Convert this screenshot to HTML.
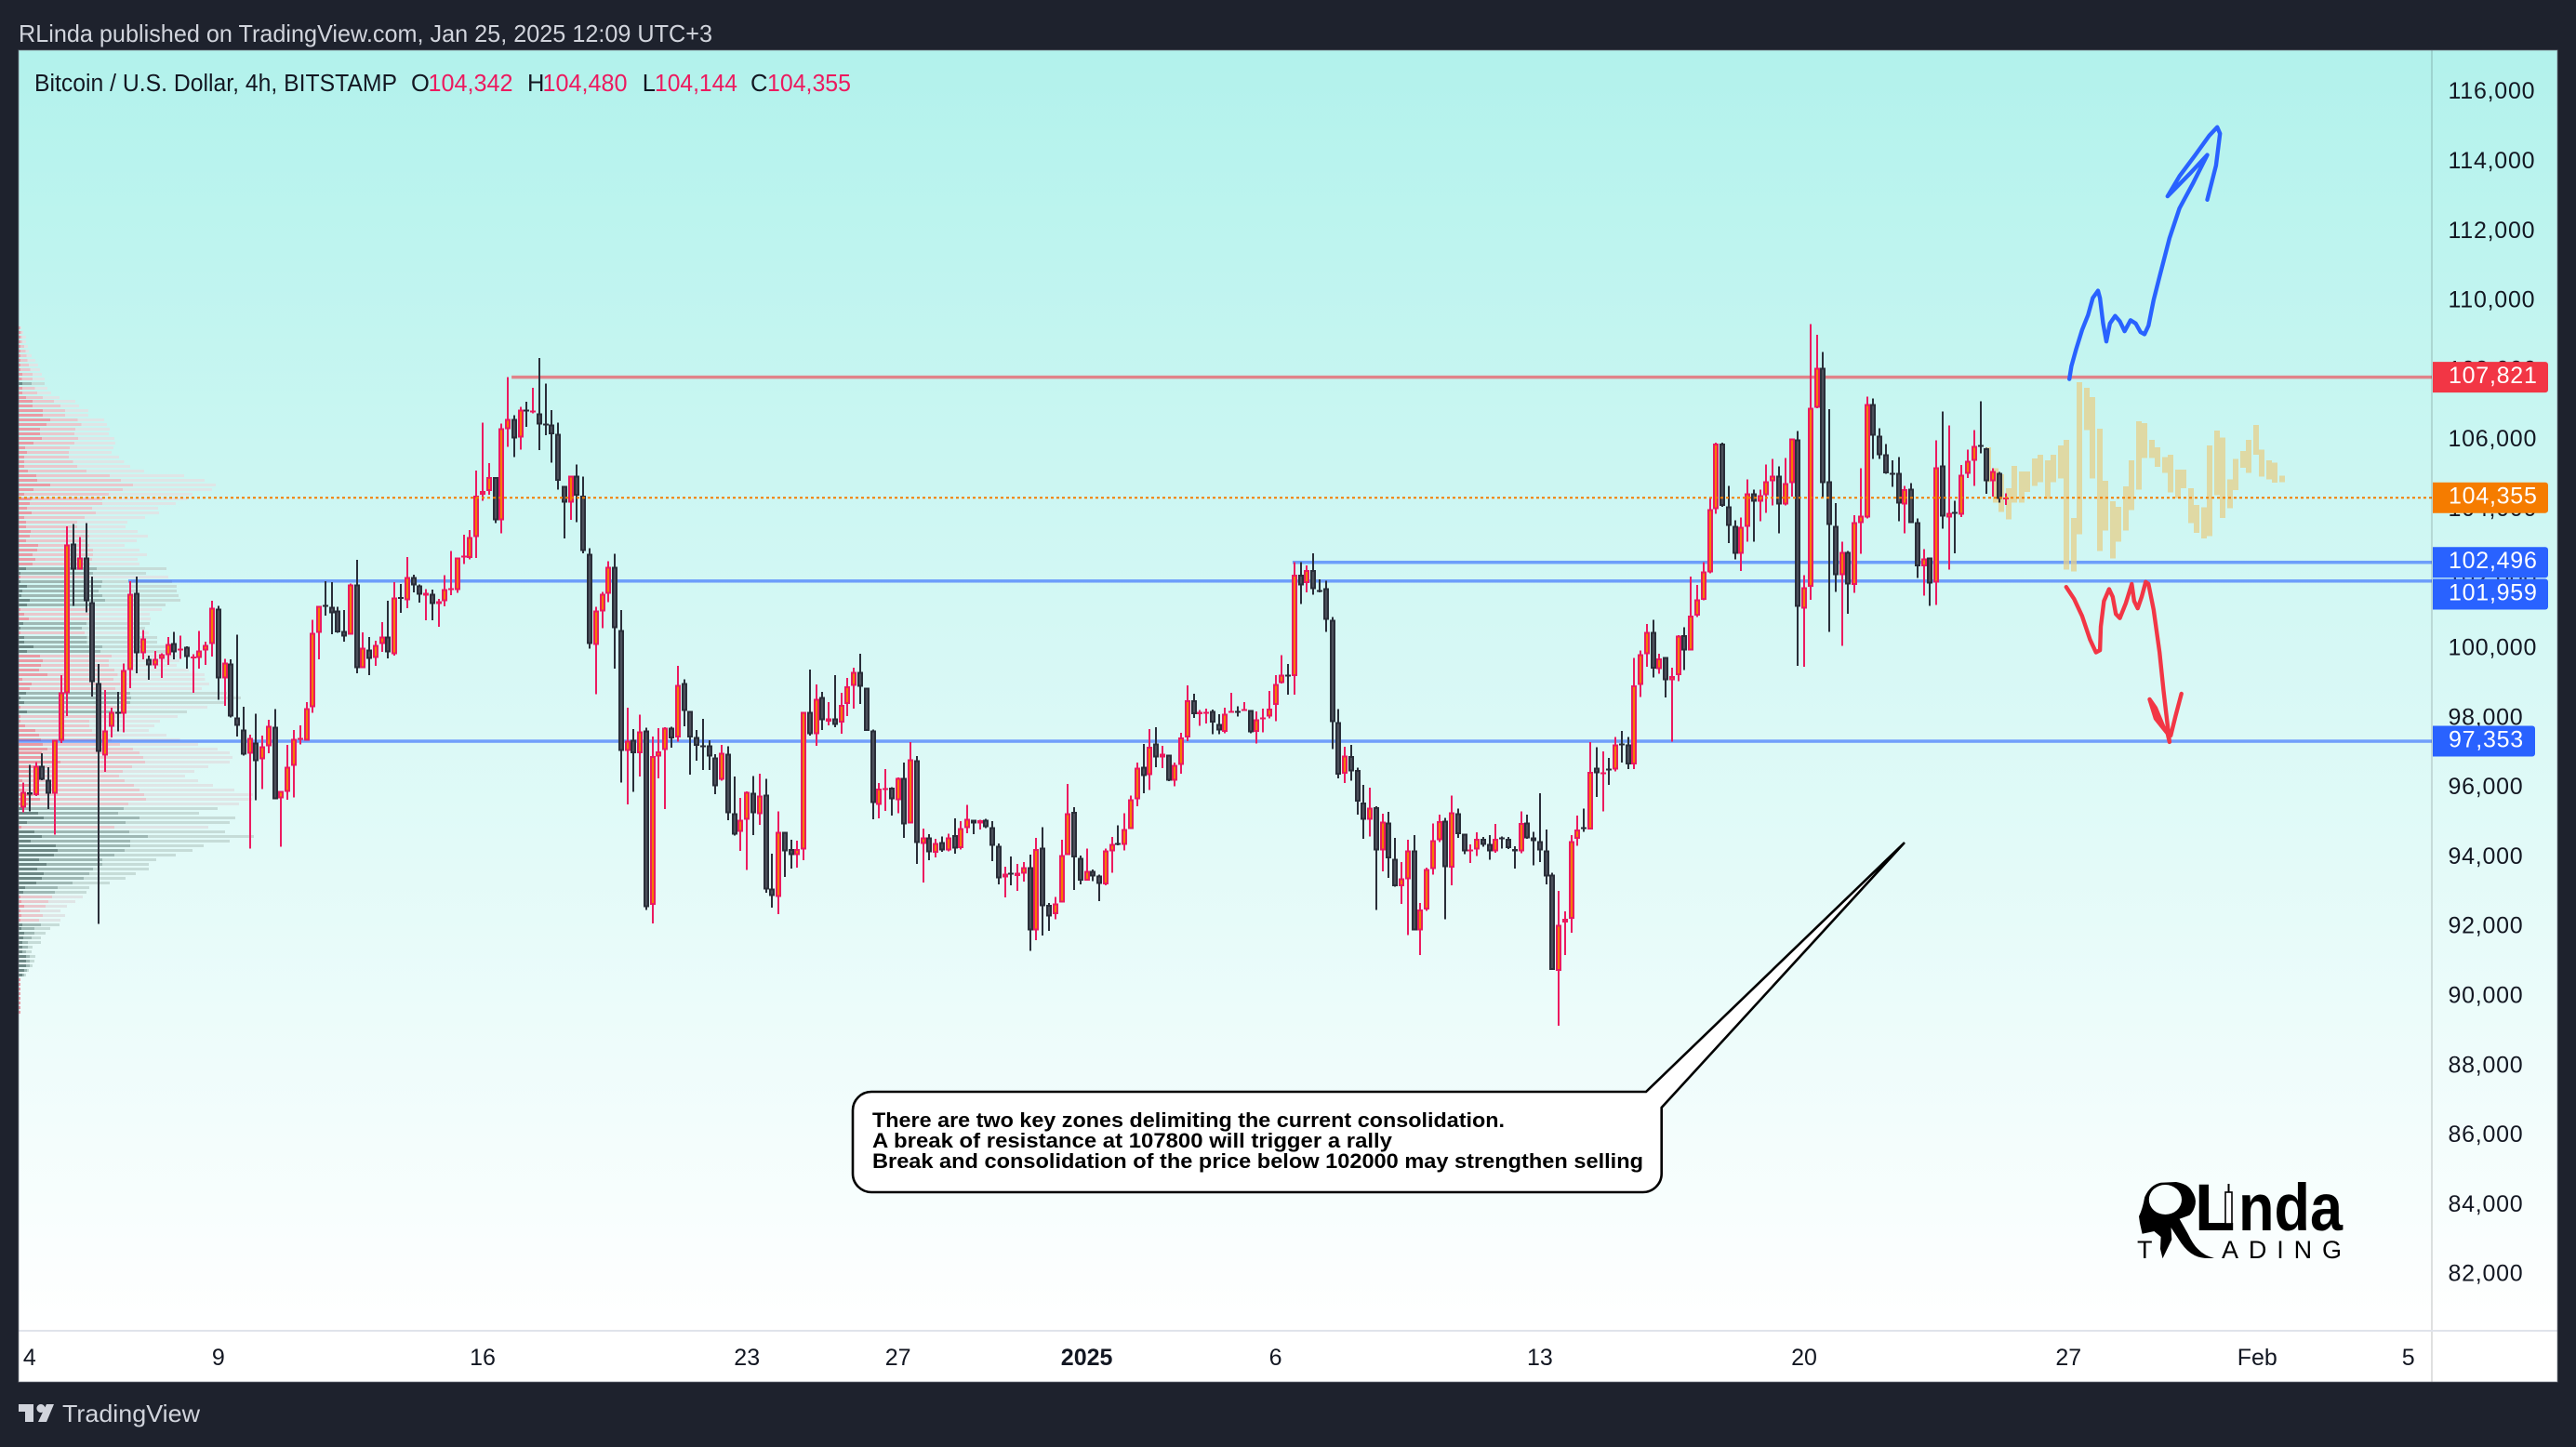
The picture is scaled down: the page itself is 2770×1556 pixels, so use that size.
<!DOCTYPE html>
<html lang="en">
<head>
<meta charset="utf-8">
<title>BTC/USD 4h chart</title>
<style>
html,body{margin:0;padding:0;background:#1e222d;width:2770px;height:1556px;overflow:hidden}
svg{display:block}
text{font-family:"Liberation Sans",sans-serif}
</style>
</head>
<body>
<svg id="chart" xmlns="http://www.w3.org/2000/svg" width="2770" height="1556" viewBox="0 0 2770 1556">
<defs>
<linearGradient id="bgGrad" x1="0" y1="0" x2="0" y2="1">
<stop offset="0" stop-color="#b2f2ec"/>
<stop offset="1" stop-color="#ffffff"/>
</linearGradient>
<clipPath id="plotClip"><rect x="20" y="54" width="2595" height="1377"/></clipPath>
</defs>
<rect x="0" y="0" width="2770" height="1556" fill="#1e222d"/>
<text x="20" y="45" font-size="26" fill="#d1d4dc" textLength="746" lengthAdjust="spacingAndGlyphs">RLinda published on TradingView.com, Jan 25, 2025 12:09 UTC+3</text>
<rect x="20" y="54" width="2730" height="1377" fill="url(#bgGrad)"/>
<rect x="20" y="1431" width="2730" height="55" fill="#ffffff"/>
<g id="profileLayer" clip-path="url(#plotClip)"></g>
<g id="levelLayer" clip-path="url(#plotClip)"></g>
<g id="ghostLayer" clip-path="url(#plotClip)"></g>
<g id="candleLayer" clip-path="url(#plotClip)"></g>
<g id="lastLayer" clip-path="url(#plotClip)"></g>

<path fill="none" stroke="#2962ff" stroke-width="4.4" stroke-linecap="round" stroke-linejoin="round" d="M2225.2 407.6L2227.4 393.8L2232.5 375.5L2238.9 354.8L2245.3 338.8L2250.4 320.4L2256 312.6L2258.1 320.4L2261.5 347.9L2265 367.2L2268.8 347.9L2274.4 339.7L2279.5 345.6L2284.6 356.2L2291 344.3L2296.6 347.9L2301.7 357.1L2306 359.4L2310.3 350.2L2315.8 322.7L2322.2 297.4L2332.9 256.1L2343.6 224L2358.5 196.4L2373.5 166.6L2354.3 187.2L2330.8 211.1L2343.6 189.5L2360.7 166.6L2375.6 145.9L2384.2 136.7L2387.2 143.6L2382.9 178L2373.5 214.8"/>
<path fill="none" stroke="#f23645" stroke-width="4.4" stroke-linecap="round" stroke-linejoin="round" d="M2221.8 631.2L2230.3 644.1L2238.9 662.4L2247.4 687.7L2253.8 701.5L2258.1 699.2L2259 673.9L2262.4 646.4L2267.9 633.5L2271.8 641.7L2275.2 660.2L2279.5 664.7L2285.9 648.7L2292.3 628L2294.9 646.4L2298.7 654.2L2303 641.7L2307.3 625.7L2310.3 628L2315.8 655.6L2322.2 701.5L2326.5 742.8L2332.9 797.9L2330.8 788.7L2317.9 772.6L2311.5 752L2317.9 761.2L2326.5 781.8L2334.2 791L2339.3 770.3L2345.7 746"/>

<g>
<path d="M937 1174L1770 1174L2048 906L1786.7 1191L1786.7 1262A20 20 0 0 1 1766.7 1282L937 1282A20 20 0 0 1 917 1262L917 1194A20 20 0 0 1 937 1174Z" fill="#ffffff" stroke="#000000" stroke-width="2.6"/>
<text x="938" y="1212" font-size="22.5" font-weight="700" fill="#000" textLength="680" lengthAdjust="spacingAndGlyphs">There are two key zones delimiting the current consolidation.</text>
<text x="938" y="1234" font-size="22.5" font-weight="700" fill="#000" textLength="559" lengthAdjust="spacingAndGlyphs">A break of resistance at 107800 will trigger a rally</text>
<text x="938" y="1256" font-size="22.5" font-weight="700" fill="#000" textLength="829" lengthAdjust="spacingAndGlyphs">Break and consolidation of the price below 102000 may strengthen selling</text>
</g>

<g>
<path fill="#000" fill-rule="evenodd" d="M2300 1308Q2304 1300 2306.2 1287.3Q2312 1274 2323.6 1271.7L2340 1271Q2352 1273 2356.4 1280Q2362 1288 2360.7 1295Q2359 1303 2354.5 1306.7L2343.6 1310.7L2352.7 1326.7Q2358 1338 2363.6 1343.3Q2371 1351 2381 1352.7Q2368 1354 2360 1350Q2352 1346 2345.5 1336.7L2334.5 1320L2335.3 1333L2325.5 1353.3L2323 1343L2323.6 1330L2316.4 1324L2303.6 1326.7L2301 1315ZM2310.8 1290a17.6 16 0 1 0 35.2 0a17.6 16 0 1 0 -35.2 0Z"/>
<text x="2360" y="1323" font-size="71" font-weight="700" fill="#000">L</text>
<rect x="2395.5" y="1273" width="2" height="50" fill="#000"/>
<rect x="2393" y="1282" width="7" height="34" fill="#fff" stroke="#000" stroke-width="1.6"/>
<text x="2407" y="1323" font-size="71" font-weight="700" fill="#000" textLength="112" lengthAdjust="spacingAndGlyphs">nda</text>
<text x="2298" y="1353" font-size="27" fill="#000">T</text>
<text x="2389" y="1353" font-size="27" fill="#000" textLength="129">ADING</text>
</g>

<g font-size="25.5">
<text x="37" y="98" fill="#131722" textLength="390" lengthAdjust="spacingAndGlyphs">Bitcoin / U.S. Dollar, 4h, BITSTAMP</text>
<text x="442" y="98" fill="#131722">O</text>
<text x="460.5" y="98" fill="#ec1a5f" textLength="91" lengthAdjust="spacingAndGlyphs">104,342</text>
<text x="567" y="98" fill="#131722">H</text>
<text x="583.5" y="98" fill="#ec1a5f" textLength="91" lengthAdjust="spacingAndGlyphs">104,480</text>
<text x="690.7" y="98" fill="#131722">L</text>
<text x="704" y="98" fill="#ec1a5f" textLength="89" lengthAdjust="spacingAndGlyphs">104,144</text>
<text x="807" y="98" fill="#131722">C</text>
<text x="825" y="98" fill="#ec1a5f" textLength="90" lengthAdjust="spacingAndGlyphs">104,355</text>
</g>

<rect x="2614" y="54" width="2" height="1432" fill="#000" fill-opacity="0.12"/>
<rect x="20" y="1430" width="2730" height="2" fill="#e0e3eb"/>
<g id="yAxis"></g>
<g id="xAxis"></g>
<g id="labelLayer"></g>
<rect x="20" y="54" width="2730" height="1432" fill="none" stroke="#787b86" stroke-opacity="0.55" stroke-width="1.2"/>

<g>
<path fill="#d1d4dc" d="M20 1510H36V1529H27V1518H20ZM50 1510H58L50 1529H41ZM44 1510a4.5 4.5 0 1 1 -0.1 0Z"/>
<text x="67" y="1529" font-size="26" fill="#d1d4dc" textLength="148" lengthAdjust="spacingAndGlyphs">TradingView</text>
</g>
</svg>
<script>
// ---- Candle data: Dec 4 2024 - Jan 25 2025, 4h bars ----
const opens=[95447,95890,95803,96641,96249,95848,97363,98736,103041,102292,102640,101356,99030,96935,97773,98201,98147,99404,101623,99885,99725,99529,99725,99832,100180,99983,100073,99752,99752,99957,100144,101169,99155,99591,98040,97693,96989,97318,96828,97203,97773,95714,95893,96650,97408,97363,98326,100474,101276,101222,101115,100527,100420,101864,99449,99983,99752,100144,100367,99859,101499,101410,102078,101837,101534,101597,101303,101374,101722,101695,102657,102622,103228,104438,104552,104944,103709,106319,106615,106080,106882,106825,106777,106491,106462,106195,104695,104218,104991,104409,102746,100126,101089,101597,102372,100554,97069,97399,97007,97657,
92642,96910,97101,97741,97464,99031,98228,97474,97235,97235,96891,96242,96996,95287,94752,95096,95870,95258,95822,93119,92880,94752,94246,94084,94236,98200,97560,98630,97913,98009,97885,98429,98945,99346,98897,97665,95516,95965,96013,95650,96299,94981,96805,94399,94590,94141,94456,94217,94647,94284,94848,95096,94991,95096,94876,94351,93434,93568,93482,93549,93730,91916,94294,92642,92374,92718,94084,95316,93998,93339,93625,93491,93234,94189,94428,94370,94829,95688,96624,96376,97293,96891,96968,96223,96672,97455,98534,98123,98142,98219,97846,97627,98190,98219,98247,98247,97617,97980,98057,98391,99031,99269,99222,102144,101896,102268,101705,101752,100845,97904,96414,96920,96519,95593,95096,95449,94217,95020,93969,93186,93377,94217,91916,92518,93683,94504,95067,93711,95287,94695,94208,94237,94552,94399,94179,94580,94552,94256,94179,95020,94590,94475,94208,93520,90751,92136,92250,94542,94886,94810,96586,96414,96567,96538,97293,97264,96691,98973,99861,100492,99432,99775,99107,99250,100396,99966,100960,101418,102204,104031,105911,104111,103549,102747,103523,104485,104245,104432,104833,104984,104155,104779,106036,101170,101794,106945,108095,104824,103549,102132,102801,101847,103630,103781,107052,106143,105599,105065,105065,104164,104610,103647,102382,102631,101909,105279,103790,103951,103870,105038,105421,105876,105778,104824,105074,104342];
const highs=[96160,96677,96757,97007,96605,97390,99253,103531,103602,103228,103629,102087,99573,98825,98317,98771,99591,101953,102087,100554,99814,99948,99885,100349,100500,100393,100082,99859,100527,100215,101392,101249,99725,99707,100420,98343,97541,98147,97515,97969,98281,95919,97247,97675,97809,98477,100839,101240,101953,101926,101222,101124,101891,102568,100483,100349,100242,100777,101392,101926,101873,102648,102140,101864,101730,101713,101445,102131,102818,102640,103290,103424,105135,106519,105345,104944,106491,107818,106729,106968,107112,107513,108372,107637,106873,106519,104695,104991,105316,104963,102907,101222,101641,102533,102746,101124,98317,97702,98121,97737,
97483,97732,97751,97770,99518,99136,98228,97674,97990,97378,96977,97245,97207,96337,95717,95908,96357,96414,96271,94122,95335,94752,94514,94494,98200,99413,98983,98773,98477,99250,98744,99174,99460,99871,98897,97694,96146,96548,96032,96309,96739,97331,96930,94838,94676,94542,94618,94695,95134,95048,95526,95096,95096,95125,95048,94408,93740,94036,93826,93874,94093,94571,94886,92708,92880,94523,96118,95449,94065,94265,93663,93520,94265,94599,94934,95287,95793,96739,97273,97703,97751,97216,96968,96739,97598,98954,98715,98247,98286,98257,98123,98314,98744,98362,98477,98247,98209,98286,98792,99250,99833,99575,102497,102507,102402,102755,102001,101972,100921,98276,97197,97245,96595,96099,96013,95478,95268,95316,94571,93874,94523,94647,92708,93711,94981,95239,95144,95793,95421,94695,94380,94733,94599,94647,94972,94618,94599,94332,95335,95239,94752,95860,94810,93568,93043,92460,94647,95211,95421,97331,97187,97054,96872,97474,97646,97474,99747,99967,100721,100845,99871,99775,99470,100396,100635,102087,101848,102507,104343,105938,105938,104699,103710,103781,104886,104592,104583,105314,105475,105261,105501,106063,106277,102132,109352,109040,108550,106901,104200,103095,102827,103852,105207,107257,107213,106348,105902,105430,105528,104699,104779,103763,102881,102640,106009,106838,106437,104271,105296,105742,106304,107132,105787,105207,105100,104480];
const lows=[95313,95331,95777,96231,95402,94662,97301,98076,101240,102283,101053,98638,92104,96472,97461,97630,97604,98878,99306,99707,99119,99440,99172,99547,99707,99725,99440,98745,99440,99547,99787,98540,98370,98032,97488,96935,94261,95652,95973,97007,95688,94315,95670,95732,97256,97363,98165,99707,100964,100429,100465,100215,100420,99306,99449,99253,99520,99921,99734,99814,101044,101178,101632,101338,100830,100830,100643,101231,101552,101614,102443,102577,102622,104266,104438,103620,103335,105822,105517,105736,106395,106777,105727,106157,105364,104581,103183,103718,103647,102755,100010,98700,100598,101347,99440,96160,95536,95892,96338,92497,
92117,96290,95402,97168,97340,97780,96395,96796,96528,96528,95831,96213,95077,94638,94198,93644,94657,94943,92995,92565,92384,93453,93692,93721,93931,97512,97216,97674,97808,97751,97570,98076,98286,98419,97655,95106,95134,95344,95211,95287,94571,94981,93826,93291,93931,94007,94170,94179,94122,94237,94705,94676,94810,94857,93902,93234,92861,93205,93052,93320,91324,91629,91763,91897,92231,92718,94084,93071,93234,93339,93329,92756,93205,93568,94361,94208,94829,95478,95860,95955,96605,96576,96204,96051,96414,97350,98018,97789,97866,97550,97550,97579,98190,98057,98247,97579,97283,97607,98009,97923,99012,98696,98696,101303,101638,101571,101638,100492,97121,96290,96147,96213,95239,94542,94618,92498,93616,93425,93167,92680,91773,91916,91209,92470,93511,94447,92231,93215,94571,94103,93855,94046,94313,93940,94150,94265,94255,93692,94131,94542,93778,93883,93234,90770,89175,91209,91849,94351,94752,94810,95745,95335,96099,96481,96739,96548,96548,98620,99489,99183,99288,98610,97340,99078,99394,99966,100921,101399,102177,103888,104093,103050,102578,102248,103086,103086,103674,103915,104129,103327,104129,104387,99518,99489,101419,106927,104360,100492,101642,100091,101018,101615,102738,103754,105475,105475,105047,104672,103674,103336,103621,102043,101535,101241,101268,103469,102284,102756,103799,104922,104690,105626,104467,104387,104209,104144];
const closes=[95893,95812,96641,96249,95848,97390,98762,103005,102292,102640,101374,99056,97051,97657,98201,98138,99404,101597,99885,100313,99529,99725,99859,100153,99903,100019,99770,99787,99966,100117,101196,99155,99618,98058,97791,96962,97452,96784,97211,97800,95688,95919,96623,97425,97452,98308,100474,101240,101240,101026,100483,100367,101864,99449,100046,99716,100117,100367,99903,101481,101454,102078,101837,101570,101623,101303,101383,101730,101757,102640,102693,103228,104418,104552,104944,103709,106347,106615,106061,106882,106854,106863,106462,106453,106176,104839,104218,104991,104409,102818,100144,101106,101597,102372,100607,97078,97372,97007,97639,92586,
96930,97054,97741,97436,98973,98228,97455,97216,97207,96910,96051,97025,95287,94666,95096,95898,95287,95793,93090,92899,94752,94189,94084,94256,98200,97550,98572,97951,98009,97818,98391,98926,99346,98916,97655,95574,95984,96003,95688,96299,94962,96834,94428,94590,94160,94428,94208,94590,94265,94848,95125,94991,95086,94886,94351,93415,93549,93539,93568,93730,91916,94246,92613,92317,92689,94084,95287,94007,93348,93625,93463,93253,94217,94399,94389,94829,95679,96595,96357,97197,96891,96996,96223,96672,97455,98534,98123,98200,98200,97885,97665,98142,98219,98190,98276,97607,97980,98037,98295,99002,99269,99222,102134,101829,102268,101724,101647,100845,97904,96385,96939,96490,95612,95096,95440,94217,95039,93979,93186,93406,94208,91916,92518,93683,94504,95058,93730,95306,94685,94179,94237,94552,94370,94179,94552,94552,94275,94189,95000,94561,94485,94208,93463,90770,92069,92250,94475,94819,94848,96471,96433,96462,96538,97264,97254,96691,98964,99852,100492,99441,99737,99107,99231,100387,99966,100969,101428,102230,104031,105911,104120,103549,102747,103514,104485,104245,104432,104833,104993,104164,104779,106063,101223,101775,106945,108095,104779,103576,102123,102801,101865,103647,103835,107052,106143,105582,105056,105038,104191,104601,103630,102382,102605,101892,105225,103817,103915,103924,105020,105421,105840,105849,104833,105118,104316,104355];

// ---- Volume profile rows (relative volume, top to bottom) ----
const profileHighPrice=109243;
const profileStep=133;
const profileInner=[4,6,6,6,6,6,6,6,6,6,12,10,12,12,12,24,45,45,78,78,102,90,69,69,75,48,21,27,18,18,18,30,57,60,102,48,18,40,36,27,42,18,24,24,39,36,24,63,60,45,54,45,24,6,6,6,27,12,9,36,27,6,18,33,15,6,6,18,18,48,27,69,78,72,66,93,12,42,36,24,6,18,6,27,6,6,21,54,66,72,78,93,75,75,135,48,36,40,12,39,18,45,69,30,15,63,81,27,9,51,75,39,120,126,114,66,90,60,81,75,57,21,15,6,9,18,6,9,6,12,9,18,15,12,12,12,24,24,24,18,12,6,6,6,6,6,6,6,6];
const profileMid=[4,10,10,12,18,22,25,28,33,37,45,45,42,52,60,78,114,135,150,150,190,202,183,180,192,180,165,162,162,175,189,219,294,330,369,336,291,270,270,237,249,213,189,189,225,228,222,228,240,240,237,231,252,240,230,270,267,258,270,279,240,240,228,228,219,204,213,220,220,270,264,300,291,291,309,320,306,327,312,360,363,360,330,300,291,228,228,237,260,300,327,369,390,402,408,366,336,324,342,372,390,405,411,354,339,321,390,345,309,357,417,360,360,342,309,270,270,240,228,210,174,126,117,108,96,87,69,78,66,72,51,51,42,30,30,24,36,36,36,27,18,6,6,6,6,6,6,6,6];
const profileTotal=[9,15,24,24,30,33,42,54,63,69,75,84,84,93,105,132,183,195,225,225,276,285,294,291,309,312,306,300,324,340,360,405,534,600,636,624,561,543,507,450,453,408,351,345,384,417,381,342,390,414,384,390,477,411,483,495,510,510,516,522,474,462,423,426,423,408,420,447,447,492,474,510,519,510,549,600,602,615,591,672,717,669,609,543,513,456,438,420,477,520,579,642,681,690,681,612,567,537,579,627,696,756,753,711,642,582,699,681,612,666,759,681,597,561,507,444,420,420,378,345,294,228,219,207,183,156,135,150,135,132,102,87,72,72,45,42,54,51,45,33,24,6,6,6,6,6,6,6,6];
const profileSide=[0,0,0,0,0,0,0,0,0,0,0,0,1,0,0,0,0,0,0,0,0,0,0,0,0,0,0,0,0,0,0,0,0,0,0,0,0,0,0,0,0,0,0,0,0,0,0,0,0,0,0,0,1,1,0,1,1,1,1,1,1,0,0,0,1,1,0,1,1,1,1,0,0,0,0,0,0,0,0,1,1,1,0,1,0,0,0,0,0,0,0,0,0,0,0,0,0,0,0,0,0,0,0,0,1,1,1,1,0,1,1,1,1,1,1,1,1,1,1,1,1,1,1,0,0,0,0,0,0,1,1,1,1,1,1,1,1,1,1,1,1,0,0,0,0,0,0,0,0];

// ---- Projected pattern (pale bars to the right of last price) ----
const ghostHighs=[105804,105207,105029,104628,105270,105109,105109,105484,105590,105430,105590,105858,106018,103772,107676,107516,107248,106339,104842,104254,104093,104681,105430,106553,106500,106018,105800,105529,105591,105161,105161,104633,104142,104080,105861,106291,106082,104879,105468,105701,106021,106450,105738,105431,105358,104989];
const ghostLows=[104806,104209,103942,103728,104209,104209,104521,104690,104797,104316,104797,104904,102284,102230,103300,106295,104904,102819,103407,102605,103086,103407,103995,104583,105492,105492,105247,105063,104510,104351,104633,103626,103344,103184,103245,104424,103773,104056,104572,105222,105063,105591,104965,104879,104793,104805];
const ghostStartBar=312.4;
const ghostBarStep=1.0344;

// ---- Axis ticks ----
const priceTicks=[116000,114000,112000,110000,108000,106000,104000,102000,100000,98000,96000,94000,92000,90000,88000,86000,84000,82000];
const timeTickLabels=['4','9','16','23','27','2025','6','13','20','27','Feb','5'];
const timeTickBars=[1,31,73,115,139,169,199,241,283,325,355,379];

// ---- Horizontal levels ----
const levelPrices=[107821,102496,101959,97353];
const levelStartBars=[77.6,201.7,16.7,-0.8];
const levelColors=['#f23645','#2962ff','#2962ff','#2962ff'];
const levelNames=['resistance-line-107821','support-line-102496','support-line-101959','support-line-97353'];
const lastPrice=104355;

// ---- Axis functions ----
function xScale(bar){return 25+6.767*bar;}
function yScale(price){return 1371.2-(price-82000)*0.037397;}
function fmt(v){return String(v).replace(/\B(?=(\d{3})+$)/g,',');}

const NS='http://www.w3.org/2000/svg';
function make(tag,attrs,parent){
  const el=document.createElementNS(NS,tag);
  for(const k in attrs){el.setAttribute(k,attrs[k]);}
  parent.appendChild(el);
  return el;
}

// Volume profile
const profileLayer=document.getElementById('profileLayer');
const profileColors=[['#dfe5e6','#e9c7cc','#ea9aa4'],['#c6dcd8','#9fb8b4','#6d8784']];
profileTotal.forEach(function(total,k){
  const y=Math.round(yScale(profileHighPrice-k*profileStep)-1.5);
  const c=profileColors[profileSide[k]];
  const g=make('g',{'shape-rendering':'crispEdges'},profileLayer);
  
  
  make('rect',{x:20,y:y,width:total/3,height:3,fill:c[0]},g);
  make('rect',{x:20,y:y,width:profileMid[k]/3,height:3,fill:c[1]},g);
  make('rect',{x:20,y:y,width:profileInner[k]/3,height:3,fill:c[2]},g);
});

// Levels
const levelLayer=document.getElementById('levelLayer');
levelPrices.forEach(function(p,k){
  const line=make('rect',{x:xScale(levelStartBars[k]),y:yScale(p)-1.75,width:2615-xScale(levelStartBars[k]),height:3.5,fill:levelColors[k],'fill-opacity':0.6},levelLayer);
  
  
});

// Projected bars
const ghostLayer=document.getElementById('ghostLayer');
ghostHighs.forEach(function(h,k){
  const x=Math.round(xScale(ghostStartBar+k*ghostBarStep))-4+(k%2);
  const bar=make('rect',{x:x,y:yScale(h),width:6,height:yScale(ghostLows[k])-yScale(h),fill:'#e6cf8a','fill-opacity':0.75,'shape-rendering':'crispEdges'},ghostLayer);
  
  
});

// Candles
const candleLayer=document.getElementById('candleLayer');
closes.forEach(function(close,i){
  const open=opens[i];
  const up=close>=open;
  const border=up?'#ec1a5f':'#2a2e39';
  const fill=up?'#f57c00':'#4c505b';
  const x=Math.round(xScale(i));
  const top=yScale(Math.max(open,close));
  const bot=yScale(Math.min(open,close));
  const h=Math.max(bot-top,2);
  const g=make('g',{'shape-rendering':'crispEdges'},candleLayer);
  
  
  make('rect',{x:x-1,y:yScale(highs[i]),width:2,height:yScale(lows[i])-yScale(highs[i]),fill:border},g);
  make('rect',{x:x-3,y:top,width:6,height:h,fill:border},g);
  if(h>4){make('rect',{x:x-1,y:top+2,width:2,height:h-4,fill:fill},g);}
});

// Last price dotted line
const lastLine=make('line',{x1:20,x2:2615,y1:yScale(lastPrice),y2:yScale(lastPrice),stroke:'#f57c00','stroke-width':2,'stroke-dasharray':'3 3'},document.getElementById('lastLayer'));



// Price axis
const yAxis=document.getElementById('yAxis');
priceTicks.forEach(function(p){
  const t=make('text',{x:2632.5,y:yScale(p)+6.5,'font-size':25,'letter-spacing':0.75,fill:'#131722'},yAxis);
  
  
  t.textContent=fmt(p);
});

// Time axis
const xAxis=document.getElementById('xAxis');
timeTickLabels.forEach(function(lbl,k){
  const attrs={x:xScale(timeTickBars[k]),y:1468,'font-size':25,fill:'#131722','text-anchor':'middle'};
  if(lbl==='2025'){attrs['font-weight']=700;}
  const t=make('text',attrs,xAxis);
  
  
  t.textContent=lbl;
});

// Price label boxes (the 101,959 box is nudged down so it doesn't overlap 102,496)
const labelPrices=[107821,104355,102496,101959,97353];
const labelColors=['#f23645','#f57c00','#2962ff','#2962ff','#2962ff'];
const labelWidths=[124,124,124,124,110];
const labelNudges=[0,0,0,14.2,0];
const labelLayer=document.getElementById('labelLayer');
labelPrices.forEach(function(p,k){
  const y=yScale(p)+labelNudges[k];
  const g=make('g',{},labelLayer);
  
  
  make('path',{d:'M2616 '+(y-16.5)+'h'+(labelWidths[k]-3)+'a3 3 0 0 1 3 3v27a3 3 0 0 1 -3 3h-'+(labelWidths[k]-3)+'z',fill:labelColors[k]},g);
  const t=make('text',{x:2633,y:y+6.5,'font-size':25,'letter-spacing':0.75,fill:'#ffffff'},g);
  t.textContent=fmt(p);
});
</script>
</body>
</html>
